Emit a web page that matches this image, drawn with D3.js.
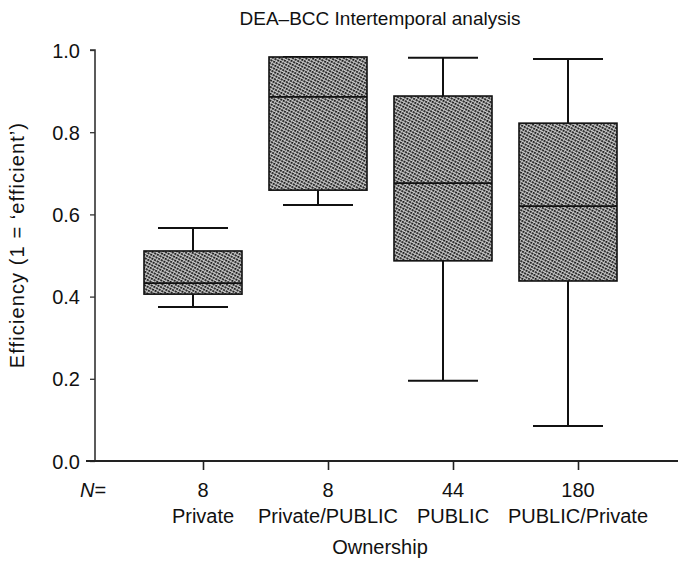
<!DOCTYPE html>
<html>
<head>
<meta charset="utf-8">
<script src="https://cdn.jsdelivr.net/npm/d3@7"></script>
<style>
  html, body { margin: 0; padding: 0; background: #fff; }
  svg { display: block; font-family: "Liberation Sans", Arial, Helvetica, sans-serif; }
</style>
</head>
<body>
<svg id="chart" width="678" height="563"></svg>
<script>
// ---- data ----
const categories   = ["Private", "Private/PUBLIC", "PUBLIC", "PUBLIC/Private"];
const counts       = [8, 8, 44, 180];
const whiskerLow   = [0.375, 0.623, 0.195, 0.085];
const quartile1    = [0.406, 0.659, 0.487, 0.438];
const medians      = [0.433, 0.886, 0.676, 0.620];
const quartile3    = [0.511, 0.983, 0.888, 0.822];
const whiskerHigh  = [0.567, 0.983, 0.981, 0.978];
const yTickValues  = [0.0, 0.2, 0.4, 0.6, 0.8, 1.0];

const title  = "DEA\u2013BCC Intertemporal analysis";
const yTitle = "Efficiency (1 = \u2018efficient\u2019)";
const xTitle = "Ownership";

// ---- layout ----
const svg = d3.select("#chart");
const plotLeft = 95, plotTop = 50, plotBottom = 461;
const boxWidth = 98, capWidth = 70, boxShift = -10;
const fs = 20;

const y = d3.scaleLinear().domain([0, 1]).range([plotBottom, plotTop]);
const x = d3.scalePoint().domain(categories).range([203, 578]);

// hatch pattern
const defs = svg.append("defs");
const pat = defs.append("pattern")
  .attr("id", "hatch").attr("patternUnits", "userSpaceOnUse")
  .attr("width", 3).attr("height", 3)
  .attr("patternTransform", "rotate(28)");
pat.append("rect").attr("width", 3).attr("height", 3).attr("fill", "#cfcfcf");
pat.append("line").attr("x1", 0).attr("y1", 0.9).attr("x2", 3).attr("y2", 0.9)
  .attr("stroke", "#111").attr("stroke-width", 1.7).attr("stroke-dasharray", "2.2 0.8");

// title
svg.append("text").attr("x", 380).attr("y", 25).attr("text-anchor", "middle")
  .attr("font-size", 19).attr("fill", "#111").text(title);

// y axis
const yAxis = d3.axisLeft(y).tickValues(yTickValues).tickFormat(d3.format(".1f")).tickSize(5).tickPadding(10);
const gy = svg.append("g").attr("transform", `translate(${plotLeft},0)`).call(yAxis);
gy.select(".domain").attr("stroke", "#333").attr("stroke-width", 1.6).attr("d", `M-5,${plotTop}H0V${plotBottom}`);
gy.selectAll(".tick line").attr("stroke", "#333").attr("stroke-width", 1.3);
gy.selectAll(".tick text").attr("font-size", fs).attr("fill", "#111").attr("dy", "0.35em")
  .attr("font-family", "'Liberation Sans', Arial, sans-serif");

// x axis
const xAxis = d3.axisBottom(x).tickSize(9).tickFormat("");
const gx = svg.append("g").attr("transform", `translate(0,${plotBottom})`).call(xAxis);
gx.select(".domain").attr("stroke", "#222").attr("stroke-width", 2).attr("d", `M86,0H678`);
gx.selectAll(".tick line").attr("stroke", "#222").attr("stroke-width", 1.6);

// N labels
svg.append("text").attr("x", 80).attr("y", 497).attr("font-size", fs).attr("fill", "#111")
  .html('<tspan font-style="italic">N</tspan>=');
svg.selectAll(".nlab").data(categories).enter().append("text")
  .attr("class", "nlab").attr("x", d => x(d)).attr("y", 497).attr("text-anchor", "middle")
  .attr("font-size", fs).attr("fill", "#111").text((d, i) => counts[i]);
svg.selectAll(".clab").data(categories).enter().append("text")
  .attr("class", "clab").attr("x", d => x(d)).attr("y", 523).attr("text-anchor", "middle")
  .attr("font-size", fs).attr("fill", "#111").text(d => d);

svg.append("text").attr("x", 380).attr("y", 554).attr("text-anchor", "middle")
  .attr("font-size", fs).attr("fill", "#111").text(xTitle);

svg.append("text").attr("transform", `translate(24,245) rotate(-90)`).attr("text-anchor", "middle")
  .attr("font-size", fs).attr("letter-spacing", 1.1).attr("fill", "#111").text(yTitle);

// boxes
const g = svg.append("g");
categories.forEach((c, i) => {
  const cx = x(c) + boxShift;
  g.append("line").attr("x1", cx).attr("x2", cx).attr("y1", y(quartile3[i])).attr("y2", y(whiskerHigh[i]))
    .attr("stroke", "#111").attr("stroke-width", 2);
  g.append("line").attr("x1", cx).attr("x2", cx).attr("y1", y(quartile1[i])).attr("y2", y(whiskerLow[i]))
    .attr("stroke", "#111").attr("stroke-width", 2);
  g.append("line").attr("x1", cx - capWidth / 2).attr("x2", cx + capWidth / 2)
    .attr("y1", y(whiskerHigh[i])).attr("y2", y(whiskerHigh[i])).attr("stroke", "#111").attr("stroke-width", 2);
  g.append("line").attr("x1", cx - capWidth / 2).attr("x2", cx + capWidth / 2)
    .attr("y1", y(whiskerLow[i])).attr("y2", y(whiskerLow[i])).attr("stroke", "#111").attr("stroke-width", 2);
  g.append("rect").attr("x", cx - boxWidth / 2).attr("width", boxWidth)
    .attr("y", y(quartile3[i])).attr("height", y(quartile1[i]) - y(quartile3[i]))
    .attr("fill", "url(#hatch)").attr("stroke", "#111").attr("stroke-width", 1.6);
  g.append("line").attr("x1", cx - boxWidth / 2).attr("x2", cx + boxWidth / 2)
    .attr("y1", y(medians[i])).attr("y2", y(medians[i])).attr("stroke", "#111").attr("stroke-width", 1.8);
});
</script>
</body>
</html>
